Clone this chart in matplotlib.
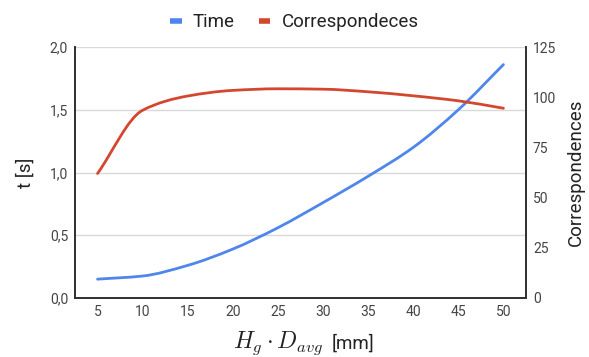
from matplotlib import pyplot as plt
from matplotlib.path import Path
from matplotlib.patches import PathPatch
import numpy as np

# Data
size_mm = [5, 10, 15, 20, 25, 30, 35, 40, 45, 50]
time_s = [0.15, 0.175, 0.26, 0.39, 0.56, 0.76, 0.97, 1.20, 1.50, 1.86]
correspondences = [62, 93.5, 100.6, 103.4, 104.2, 104, 102.7, 100.7, 98.2, 94.5]

left_ticks = [0.0, 0.5, 1.0, 1.5, 2.0]
left_labels = ["0,0", "0,5", "1,0", "1,5", "2,0"]
right_ticks = [0, 25, 50, 75, 100, 125]

BLUE = "#4f86ec"
RED = "#d4472f"
TEXT = "#444444"
DARK = "#222222"

plt.rcParams["font.family"] = ["Roboto", "DejaVu Sans"]
plt.rcParams["mathtext.fontset"] = "cm"


# Smooth line through the points (monotone cubic drawn as Bezier segments)
def smooth_path(x, y):
    x = np.asarray(x, float)
    y = np.asarray(y, float)
    h = np.diff(x)
    d = np.diff(y) / h
    m = np.zeros(len(x))
    m[0], m[-1] = d[0], d[-1]
    for i in range(1, len(x) - 1):
        if d[i - 1] * d[i] > 0:
            m[i] = 2.0 / (1.0 / d[i - 1] + 1.0 / d[i])
    verts = [(x[0], y[0])]
    codes = [Path.MOVETO]
    for i in range(len(x) - 1):
        verts += [(x[i] + h[i] / 3, y[i] + m[i] * h[i] / 3),
                  (x[i + 1] - h[i] / 3, y[i + 1] - m[i + 1] * h[i] / 3),
                  (x[i + 1], y[i + 1])]
        codes += [Path.CURVE4] * 3
    return Path(verts, codes)


fig = plt.figure(figsize=(5.89, 3.57), dpi=100)
ax = fig.add_axes([0.1273, 0.1653, 0.7657, 0.703])
ax2 = ax.twinx()

ax.add_patch(PathPatch(smooth_path(size_mm, time_s), fill=False,
                       edgecolor=BLUE, lw=2, capstyle="round"))
ax2.add_patch(PathPatch(smooth_path(size_mm, correspondences), fill=False,
                        edgecolor=RED, lw=2, capstyle="round"))

ax.set_xlim(2.5, 52.5)
ax.set_ylim(0, 2.0)
ax2.set_ylim(0, 125)
ax.set_xticks(size_mm)
ax.set_yticks(left_ticks)
ax.set_yticklabels(left_labels)
ax2.set_yticks(right_ticks)

ax.grid(axis="y", color="#d9d9d9", lw=1)
ax.set_axisbelow(True)
for a in (ax, ax2):
    a.tick_params(length=0, labelsize=10, colors=TEXT, pad=5)
    a.spines["top"].set_visible(False)
    for s in ("left", "right", "bottom"):
        a.spines[s].set_color("#333333")
        a.spines[s].set_linewidth(1.3)

ax.set_ylabel("t [s]", fontsize=13.5, color=DARK, labelpad=11)
ax2.set_ylabel("Correspondences", fontsize=13.5, color=DARK, labelpad=8)

# x label: larger math part followed by the unit
fig.text(323 / 589, 0.024, r"$H_g \cdot D_{avg}$", fontsize=17, color=DARK,
         ha="right", va="baseline")
fig.text(332 / 589, 0.024, "[mm]", fontsize=13.5, color=DARK,
         ha="left", va="baseline")

handles = [plt.Line2D([], [], color=BLUE, lw=4, solid_capstyle="butt"),
           plt.Line2D([], [], color=RED, lw=4, solid_capstyle="butt")]
fig.legend(handles, ["Time", "Correspondeces"], loc="upper center",
           bbox_to_anchor=(0.5, 1.01), ncol=2, frameon=False, fontsize=13.5,
           handlelength=0.6, handletextpad=0.6, columnspacing=1.3,
           labelcolor=DARK)

fig.savefig("out.png", dpi=100)
